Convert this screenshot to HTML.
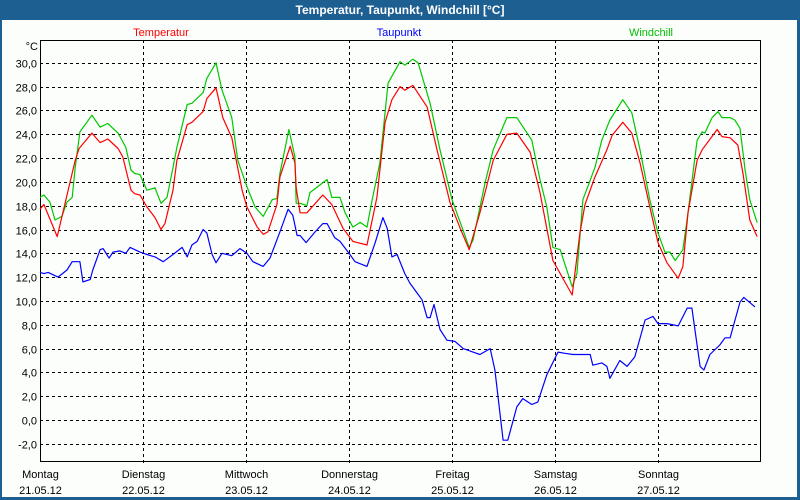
<!DOCTYPE html>
<html><head><meta charset="utf-8"><style>
html,body{margin:0;padding:0;}
body{width:800px;height:500px;background:#1e5f92;position:relative;overflow:hidden;font-family:"Liberation Sans",sans-serif;}
#title{position:absolute;left:0;top:0;width:800px;height:20px;line-height:20px;text-align:center;color:#fff;font-weight:bold;font-size:12px;}
#panel{position:absolute;left:2px;top:20px;width:795px;height:477px;background:#fcfefc;}
svg{position:absolute;left:0;top:0;}
</style></head><body>
<div id="title">Temperatur, Taupunkt, Windchill [°C]</div>
<div id="panel"></div>
<svg id="chart" width="800" height="500"></svg>
<script>
const yTicks = [30,28,26,24,22,20,18,16,14,12,10,8,6,4,2,0,-2];
const dayNames = ["Montag","Dienstag","Mittwoch","Donnerstag","Freitag","Samstag","Sonntag"];
const dayDates = ["21.05.12","22.05.12","23.05.12","24.05.12","25.05.12","26.05.12","27.05.12"];
const tempData = [[0,17.7],[0.9,18.1],[4.0,15.4],[8.2,21.8],[9.1,22.8],[12.1,24.1],[14.0,23.3],[15.8,23.6],[18.2,22.8],[19.3,22.1],[21.2,19.3],[22.1,19.0],[23.3,18.9],[24.9,17.9],[26.8,17.0],[28.2,16.0],[29.1,16.5],[31.0,19.3],[31.9,21.8],[34.3,24.8],[35.4,25.0],[38.0,25.9],[38.9,27.0],[41.0,27.9],[42.6,25.4],[44.7,23.7],[47.1,19.3],[48.2,17.9],[50.6,16.2],[52.0,15.6],[53.1,15.8],[55.2,18.1],[55.9,20.4],[58.3,23.0],[59.4,21.6],[59.7,19.5],[60.6,17.4],[62.2,17.4],[65.9,18.9],[68.0,18.1],[70.6,16.1],[72.9,15.0],[76.2,14.7],[78.5,18.7],[80.4,25.0],[82.0,26.9],[83.9,28.0],[85.0,27.7],[86.9,28.1],[90.2,26.3],[92.5,22.7],[95.5,18.3],[97.9,16.1],[100.0,14.3],[102.5,17.4],[105.6,21.8],[108.8,24.0],[111.1,24.1],[114.2,22.5],[116.5,19.1],[119.5,13.4],[124.0,10.5],[125.8,15.7],[127.0,18.1],[129.3,20.4],[132.1,22.7],[133.3,23.9],[135.8,25.0],[137.9,24.1],[139.8,21.6],[142.1,17.9],[144.0,14.9],[146.1,13.2],[148.7,11.9],[149.8,12.9],[151.0,17.4],[153.1,21.8],[154.3,22.7],[157.8,24.4],[158.9,23.8],[160.8,23.7],[162.6,23.1],[163.8,20.7],[165.4,16.8],[167.1,15.4]];
const dewData = [[0,12.4],[0.9,12.3],[1.9,12.4],[4.2,12.0],[6.3,12.6],[7.5,13.3],[9.3,13.3],[10.0,11.6],[11.7,11.8],[12.3,12.6],[14.0,14.3],[14.7,14.4],[16.1,13.6],[17.0,14.1],[18.6,14.2],[20.0,14.0],[21.0,14.5],[23.3,14.1],[24.9,13.9],[26.8,13.7],[28.7,13.3],[31.0,13.9],[33.1,14.5],[34.3,13.7],[35.4,14.7],[36.6,15.0],[38.0,16.0],[38.9,15.7],[40.1,13.9],[41.0,13.2],[42.4,14.0],[44.7,13.8],[46.6,14.4],[48.2,14.0],[49.6,13.3],[52.0,12.9],[53.6,13.6],[55.9,15.8],[57.8,17.7],[58.9,17.2],[59.9,15.5],[60.6,15.5],[62.0,14.9],[64.1,15.8],[65.9,16.5],[66.9,16.5],[68.7,15.3],[69.9,15.0],[72.2,13.9],[73.4,13.3],[76.2,12.9],[78.1,14.9],[79.9,17.0],[80.9,16.1],[82.0,13.7],[83.2,13.9],[85.0,12.3],[86.2,11.5],[87.8,10.7],[89.0,10.1],[90.2,8.6],[90.9,8.6],[91.8,9.7],[93.2,7.6],[94.8,6.7],[96.7,6.6],[98.6,6.0],[100.9,5.7],[102.5,5.5],[104.9,6.0],[106.0,4.2],[107.9,-1.7],[109.0,-1.7],[111.1,1.1],[112.5,1.8],[114.6,1.3],[116.0,1.5],[118.1,3.8],[120.7,5.7],[122.3,5.6],[124.2,5.5],[126.5,5.5],[128.2,5.5],[128.8,4.6],[130.9,4.8],[132.1,4.5],[132.8,3.5],[135.1,5.0],[136.8,4.5],[138.6,5.3],[141.0,8.4],[142.8,8.7],[144.0,8.1],[146.1,8.1],[148.7,7.9],[150.8,9.4],[151.9,9.4],[152.6,7.6],[153.8,4.5],[154.7,4.2],[156.1,5.5],[158.4,6.3],[159.6,6.9],[160.8,6.9],[163.1,9.9],[164.0,10.3],[166.6,9.5]];
const chillData = [[0,18.7],[0.9,18.9],[2.3,18.3],[3.5,16.8],[5.1,17.1],[6.3,18.3],[7.5,18.7],[8.2,21.2],[9.3,24.2],[12.1,25.6],[14.0,24.6],[15.8,24.9],[18.2,24.1],[20.0,22.9],[21.2,21.0],[22.1,20.7],[23.3,20.6],[24.9,19.3],[26.8,19.5],[28.2,18.2],[29.6,18.7],[31.0,21.2],[31.9,22.9],[34.3,26.5],[35.4,26.6],[38.0,27.5],[38.9,28.7],[41.0,30.0],[42.4,27.7],[44.7,25.4],[46.1,21.8],[48.2,19.6],[50.1,17.9],[52.0,17.1],[54.1,18.5],[55.2,18.6],[55.9,20.7],[58.0,24.4],[59.4,22.1],[59.7,18.2],[60.6,18.2],[62.2,18.0],[62.9,19.1],[66.9,20.2],[68.0,18.7],[69.9,18.7],[71.1,17.4],[72.9,16.2],[74.6,16.6],[76.2,16.2],[77.4,18.5],[79.2,21.6],[81.1,28.3],[83.9,30.1],[85.0,29.8],[86.9,30.3],[88.1,30.0],[90.9,26.6],[93.2,22.7],[96.0,18.5],[98.3,16.2],[100.0,14.5],[100.9,15.1],[103.7,19.9],[105.6,22.7],[108.8,25.4],[111.1,25.4],[114.6,23.5],[116.5,20.2],[118.1,17.9],[119.5,14.5],[121.2,14.3],[124.0,11.2],[125.1,12.3],[126.5,18.5],[129.3,21.2],[130.9,23.5],[132.8,25.2],[135.8,26.9],[137.9,25.8],[139.8,22.7],[142.1,18.5],[144.0,15.7],[145.6,14.1],[146.8,14.1],[148.0,13.4],[149.8,14.3],[151.0,17.4],[153.1,23.5],[154.3,24.2],[154.9,24.1],[156.6,25.4],[158.0,25.9],[158.9,25.4],[160.8,25.4],[161.9,25.2],[163.1,24.5],[164.3,21.0],[165.4,18.5],[167.1,16.6]];

const NS='http://www.w3.org/2000/svg';
const svg=document.getElementById('chart');
const L=40,R=760,T=40,B=461;
const xS=h=>L+h*(103/24);
const yS=v=>420-v*11.906;
function mk(tag,attrs){const e=document.createElementNS(NS,tag);for(const k in attrs)e.setAttribute(k,attrs[k]);svg.appendChild(e);return e;}
function txt(x,y,s,anchor,color,size){const e=mk('text',{x:x,y:y,'text-anchor':anchor,fill:color,'font-size':size,'font-family':'Liberation Sans, sans-serif'});e.textContent=s;return e;}

// legend
let e;
e=txt(161,36,'Temperatur','middle','#ff0000',11);


e=txt(399,36,'Taupunkt','middle','#0000ff',11);


e=txt(651,36,'Windchill','middle','#00c000',11);


e=txt(38,50,'°C','end','#000',11);



// horizontal grid + y labels
yTicks.forEach(v=>{
  const y=Math.round(yS(v))+0.5;
  const g=mk('line',{x1:L,x2:R,y1:y,y2:y,stroke:'#000','stroke-dasharray':'3,3','stroke-width':1});
  
  
  const t=txt(37,y+4,v.toFixed(1).replace('.',','),'end','#000',11);
  
  
});
// vertical grid + x labels
dayNames.forEach((d,i)=>{
  const x=Math.round(xS(i*24))+0.5;
  if(i>0){
    const g=mk('line',{x1:x,x2:x,y1:T,y2:B+5,stroke:'#000','stroke-dasharray':'3,3','stroke-width':1});
    
    
  }
  const t1=txt(x,478,d,'middle','#000',11);
  
  
  const t2=txt(x,494,dayDates[i],'middle','#000',11);
  
  
});
// frame
const fr=mk('rect',{x:L+0.5,y:T+0.5,width:R-L,height:B-T,fill:'none',stroke:'#000','stroke-width':1});



function series(data,color,name){
  const p=mk('polyline',{points:data.map(d=>xS(d[0]).toFixed(1)+','+yS(d[1]).toFixed(1)).join(' '),fill:'none',stroke:color,'stroke-width':1.2,'stroke-linejoin':'round'});
  
  
}
series(dewData,'#0000ff','taupunkt-line');
series(chillData,'#00c800','windchill-line');
series(tempData,'#ff0000','temperatur-line');
</script>
</body></html>
